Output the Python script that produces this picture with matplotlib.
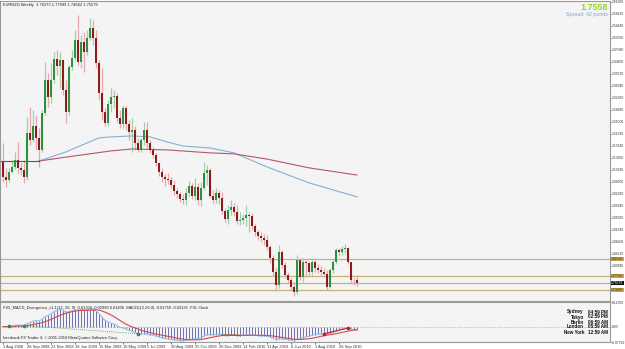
import numpy as np
import pandas as pd
import matplotlib
matplotlib.use("Agg")
import matplotlib.pyplot as plt

plt.rcParams["font.family"] = ["Liberation Sans", "DejaVu Sans"]

# ---------------- data ----------------
title_text = "EURNZD,Weekly  1.76373 1.77999 1.74662 1.75579"
first_open = 2.127
closes = [2.081, 2.072, 2.096, 2.112, 2.133, 2.109, 2.102, 2.081, 2.216, 2.194,
          2.237, 2.201, 2.164, 2.277, 2.379, 2.326, 2.379, 2.443, 2.422, 2.440,
          2.348, 2.280, 2.418, 2.446, 2.501, 2.434, 2.495, 2.464, 2.507, 2.538,
          2.507, 2.431, 2.339, 2.280, 2.247, 2.305, 2.326, 2.329, 2.262, 2.244,
          2.293, 2.244, 2.219, 2.225, 2.185, 2.164, 2.194, 2.225,
          2.185, 2.164, 2.148, 2.124, 2.096, 2.081, 2.075, 2.072,
          2.056, 2.038, 2.029, 2.013, 2.010, 2.032, 2.053, 2.023, 2.050, 2.010,
          2.047, 2.093, 2.102, 2.023, 2.010, 2.032, 2.017, 1.977, 1.952, 1.980,
          1.989, 1.974, 1.946, 1.949, 1.955,
          1.964, 1.961, 1.931, 1.912, 1.900, 1.894, 1.888, 1.866, 1.832, 1.790,
          1.750, 1.851, 1.811, 1.780, 1.765, 1.743, 1.728, 1.826, 1.774, 1.820,
          1.817, 1.790, 1.820, 1.802, 1.796, 1.790, 1.783, 1.743, 1.796, 1.820,
          1.857,
          1.851, 1.860, 1.863, 1.820, 1.765, 1.764, 1.756]
highs = [2.185, 2.109, 2.109, 2.133, 2.158, 2.188, 2.124, 2.133, 2.265, 2.296,
         2.287, 2.271, 2.231, 2.287, 2.434, 2.400, 2.431, 2.464, 2.471, 2.464,
         2.440, 2.379, 2.425, 2.471, 2.532, 2.578, 2.517, 2.526, 2.532, 2.569,
         2.563, 2.532, 2.440, 2.415, 2.293, 2.317, 2.354, 2.348, 2.339, 2.287,
         2.302, 2.299, 2.256, 2.262, 2.237, 2.201, 2.201, 2.250,
         2.250, 2.194, 2.173, 2.155, 2.124, 2.109, 2.090, 2.093,
         2.081, 2.072, 2.047, 2.035, 2.029, 2.047, 2.069, 2.063, 2.078, 2.063,
         2.066, 2.127, 2.118, 2.109, 2.041, 2.047, 2.041, 2.035, 1.986, 1.995,
         2.010, 2.001, 1.995, 1.974, 1.967,
         1.995, 1.974, 1.971, 1.937, 1.918, 1.912, 1.906, 1.903, 1.872, 1.842,
         1.802, 1.872, 1.857, 1.820, 1.790, 1.771, 1.759, 1.842, 1.832, 1.832,
         1.826, 1.820, 1.826, 1.826, 1.814, 1.808, 1.802, 1.796, 1.802, 1.826,
         1.863,
         1.863, 1.869, 1.875, 1.866, 1.820, 1.771, 1.780]
lows = [2.066, 2.050, 2.066, 2.093, 2.106, 2.093, 2.087, 2.063, 2.072, 2.179,
        2.188, 2.164, 2.112, 2.158, 2.271, 2.296, 2.308, 2.369, 2.394, 2.354,
        2.333, 2.247, 2.271, 2.409, 2.440, 2.425, 2.415, 2.403, 2.455, 2.501,
        2.486, 2.415, 2.317, 2.256, 2.237, 2.237, 2.280, 2.293, 2.250, 2.231,
        2.231, 2.225, 2.194, 2.158, 2.164, 2.158, 2.158, 2.179,
        2.170, 2.155, 2.139, 2.115, 2.084, 2.066, 2.053, 2.059,
        2.047, 2.026, 2.017, 2.004, 1.998, 1.995, 2.023, 2.013, 2.010, 1.995,
        1.992, 2.041, 2.056, 2.017, 2.001, 2.001, 1.998, 1.967, 1.943, 1.937,
        1.964, 1.961, 1.937, 1.934, 1.937,
        1.931, 1.912, 1.918, 1.900, 1.888, 1.882, 1.872, 1.857, 1.817, 1.777,
        1.734, 1.740, 1.802, 1.771, 1.756, 1.734, 1.716, 1.722, 1.765, 1.759,
        1.774, 1.777, 1.780, 1.790, 1.786, 1.780, 1.774, 1.734, 1.740, 1.786,
        1.814,
        1.839, 1.842, 1.848, 1.814, 1.756, 1.750, 1.747]

# moving averages (bar index, price)
ma_blue_bars = [12, 21, 32, 36, 43, 49, 55, 60, 69, 77, 88, 102, 118]
ma_blue_vals = [2.130, 2.158, 2.201, 2.204, 2.207, 2.204, 2.188, 2.176, 2.170, 2.155, 2.112, 2.063, 2.020]
ma_red_bars = [12, 21, 36, 43, 55, 69, 77, 88, 102, 118]
ma_red_vals = [2.130, 2.142, 2.161, 2.167, 2.164, 2.155, 2.152, 2.136, 2.109, 2.087]

trend_level = 2.130
h_levels = [1.829, 1.777, 1.756, 1.734]
h_level_labels = ["1.82900", "1.77700", "1.75579", "1.73400"]

price_tick_top = 2.618
price_tick_step = 0.0368
n_price_ticks = 23

date_label_bars = [0, 8, 16, 24, 32, 40, 48, 56, 64, 72, 80, 88, 96, 104, 112]
date_labels = ["1 Aug 2008", "28 Sep 2008", "23 Nov 2008", "18 Jan 2009", "15 Mar 2009",
               "10 May 2009", "5 Jul 2009", "30 Aug 2009", "25 Oct 2009", "20 Dec 2009",
               "14 Feb 2010", "11 Apr 2010", "6 Jun 2010", "1 Aug 2010", "26 Sep 2010"]

clock_cities = ["Sydney", "Tokyo", "Berlin", "London", "New York"]
clock_times = ["04:59 PM", "02:59 PM", "06:59 AM", "05:59 AM", "12:59 AM"]

macd_title = ("FX5_MACD_Divergence_v1.1(12, 26, 9)  0.01704 -0.02990 0.01406  "
              "MACD(12,26,9) -0.01750 -0.03135  FXL Clock")
macd_axis_vals = [0.1235, 0.0, -0.0772]
macd_axis_labels = ["0.12350", "0.00", "-0.07722"]

# ---------------- figure ----------------
W, H = 625, 349
fig = plt.figure(figsize=(W / 100, H / 100), dpi=100, facecolor="white")

def rect(x0, y0, x1, y1):
    return [x0 / W, 1 - y1 / H, (x1 - x0) / W, (y1 - y0) / H]

bg = "#F4F4F4"
ax = fig.add_axes(rect(0, 1, 610, 301), facecolor=bg)
axm = fig.add_axes(rect(0, 302, 610, 342), facecolor=bg)

n = len(closes)
idx = np.arange(n)
opens = np.array([first_open] + closes[:-1])
c = np.array(closes)
hi = np.array(highs)
lo = np.array(lows)
up = c >= opens

green_body, green_wick = "#2E9142", "#A3D0AA"
red_body, red_wick = "#8E1A1A", "#E3A9AE"

ax.vlines(idx[up], lo[up], hi[up], color=green_wick, lw=0.9, zorder=2)
ax.vlines(idx[~up], lo[~up], hi[~up], color=red_wick, lw=0.9, zorder=2)
body_lo = np.minimum(opens, c)
body_h = np.maximum(np.abs(c - opens), 0.002)
ax.bar(idx[up], body_h[up], bottom=body_lo[up], width=0.7, color=green_body, lw=0, zorder=3)
ax.bar(idx[~up], body_h[~up], bottom=body_lo[~up], width=0.7, color=red_body, lw=0, zorder=3)

ax.plot(ma_blue_bars, ma_blue_vals, color="#86AED6", lw=0.8, zorder=2.5)
ax.plot(ma_red_bars, ma_red_vals, color="#B5566A", lw=0.8, zorder=2.5)
ax.plot([-1, 12], [trend_level, trend_level], color="#5A5A5A", lw=0.8, zorder=2.5)

for lv in h_levels:
    ax.axhline(lv, color="#C8B27A", lw=0.9, zorder=1)

TS = 2.9   # tiny MT4-like font size
AS = 2.45  # axis label size
ax.set_xlim(-1, 202.33)
ax.set_ylim(1.7005, 2.621)
ax.set_xticks([])
ptick = price_tick_top - price_tick_step * np.arange(n_price_ticks)
ax.yaxis.tick_right()
ax.set_yticks(ptick)
ax.set_yticklabels([f"{v:.5f}" for v in ptick])
ax.tick_params(axis="y", labelsize=AS, length=1.0, width=0.5, pad=0.5,
               colors="#333333")
for s in ax.spines.values():
    s.set_color("#9A9A9A")
    s.set_linewidth(0.8)

for lv, lab in zip(h_levels, h_level_labels):
    is_bid = abs(lv - closes[-1]) < 1e-3
    ax.annotate(lab, xy=(1, lv), xycoords=("axes fraction", "data"),
                xytext=(0.8, 0), textcoords="offset points", va="center", ha="left",
                fontsize=AS, color="white" if is_bid else "#3A2E10",
                bbox=dict(boxstyle="square,pad=0.1", fc="#111111" if is_bid else "#C9A447",
                          ec="none"), annotation_clip=False)

# ---------------- MACD ----------------
cs = pd.Series(closes)
macd = cs.ewm(span=12, adjust=False).mean() - cs.ewm(span=26, adjust=False).mean()
signal = macd.rolling(9, min_periods=1).mean()

axm.vlines(idx, 0, macd.values, color="#5A5AA8", lw=0.6, zorder=2)
axm.plot(idx, macd.values, color="#8FC0EA", lw=0.8, zorder=3)
axm.plot(idx, signal.values, color="#D24B4B", lw=0.8, zorder=3)
axm.axhline(0, color="#9A9A9A", lw=0.5, ls=(0, (1, 1.5)), zorder=1)
axm.plot([7, 45], [macd[7], macd[45]], color="#3A9A3A", lw=0.6, ls=(0, (1, 1.5)), zorder=4)
axm.plot([2, 7, 45], [macd[2], macd[7], macd[45]], "o", color="#2E8B40", ms=1.6, zorder=5)
axm.plot([73, 79], [macd[73], macd[79]], color="#6B7A20", lw=0.8, zorder=4)
axm.plot([107, 115], [macd[107], macd[115]], color="#C02020", lw=0.8, zorder=4)
axm.plot([107, 115], [macd[107], macd[115]], "o", color="#C02020", ms=1.6, zorder=5)

axm.set_xlim(-1, 202.33)
axm.set_ylim(-0.0772, 0.1235)
axm.set_xticks(date_label_bars)
axm.set_xticklabels(date_labels)
axm.tick_params(axis="x", labelsize=TS, length=1.2, width=0.5, pad=0.8, colors="#333333")
for t in axm.get_xticklabels():
    t.set_horizontalalignment("left")
axm.yaxis.tick_right()
axm.set_yticks(macd_axis_vals)
axm.set_yticklabels(macd_axis_labels)
axm.tick_params(axis="y", labelsize=AS, length=1.0, width=0.5, pad=0.5, colors="#333333")
for s in axm.spines.values():
    s.set_color("#9A9A9A")
    s.set_linewidth(0.8)

# ---------------- texts ----------------
def ftext(x, y, s, **kw):
    fig.text(x / W, 1 - y / H, s, **kw)

ftext(3, 5, title_text, fontsize=TS, color="#222222", va="center", ha="left")
ftext(608, 7, "1.7558", fontsize=6.5, color="#9BD22E", fontweight="bold", va="center", ha="right")
ftext(608, 14.5, "Spread: 42 points", fontsize=3.8, color="#7EA3CF", va="center", ha="right")
ftext(3, 307.5, macd_title, fontsize=TS, color="#222222", va="center", ha="left")
ftext(3, 338, "Interbank FX Trader 4, \u00a9 2001-2010 MetaQuotes Software Corp.",
      fontsize=TS, color="#222222", va="center", ha="left")
for k, (city, tm) in enumerate(zip(clock_cities, clock_times)):
    yy = 312 + 5 * k
    ftext(584, yy, city, fontsize=3.3, color="#111111", va="center", ha="right", fontweight="bold")
    ftext(588, yy, tm, fontsize=3.3, color="#111111", va="center", ha="left", fontweight="bold")

fig.savefig("out.png", dpi=100, facecolor="white")
